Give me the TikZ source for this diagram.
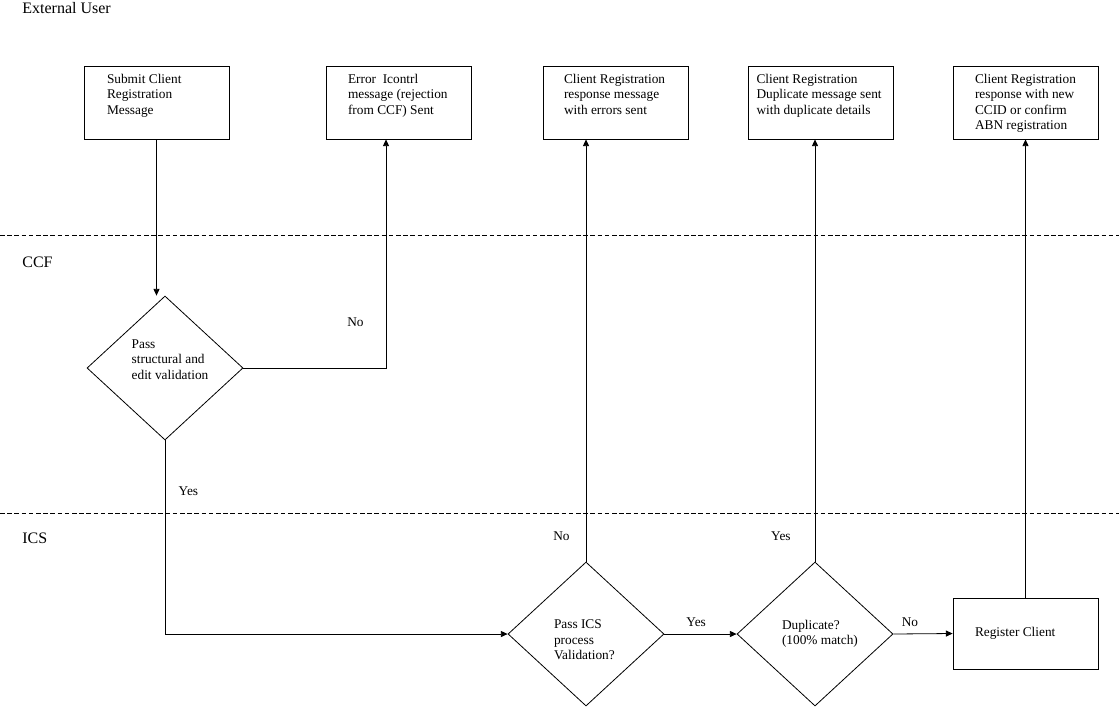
\documentclass[tikz,border=0pt]{standalone}
\usepackage{fontspec}
\setmainfont{Liberation Serif}
\usetikzlibrary{arrows.meta,shapes.geometric,calc}

\begin{document}
\begin{tikzpicture}[x=0.75pt,y=-0.75pt,>={Triangle[length=5pt,width=4.5pt]},semithick,font=\fontsize{10}{11.6}\selectfont]
  \tikzstyle{box}=[draw,rectangle,minimum width=108.75pt,minimum height=54.75pt,inner sep=0pt]
  \tikzstyle{decision}=[draw,diamond,minimum width=117pt,minimum height=108pt,inner sep=0pt]
  \tikzstyle{lane}=[anchor=west,inner sep=0pt,font=\fontsize{12}{14}\selectfont]
  \tikzstyle{lanesep}=[dash pattern=on 3.4pt off 2pt]
  \tikzstyle{flow}=[->]
  \tikzstyle{lbl}=[inner sep=0pt]

  \useasboundingbox (0,0) rectangle (1119,718);

  % swim lanes
  \node[lane] (user) at (22,8) {External User};
  \node[lane] (ccf) at (22,262) {CCF};
  \node[lane] (ics) at (22,538) {ICS};
  \draw[lanesep] (0,235) -- (1119,235);
  \draw[lanesep] (0,513) -- (1119,513);

  % external user messages
  \node[box] (submit) at (156.5,102.5) {\parbox[c][43pt][t]{74.25pt}{Submit Client\\Registration\\Message}};
  \node[box] (errsent) at (398.5,102.5) {\parbox[c][43pt][t]{75.75pt}{Error\ \ Icontrl\\message (rejection\\from CCF) Sent}};
  \node[box] (errresp) at (615.5,102.5) {\parbox[c][43pt][t]{77.25pt}{Client Registration\\response message\\with errors sent}};
  \node[box] (dupsent) at (821,102.5) {\parbox[c][43pt][t]{96.75pt}{Client Registration\\Duplicate message sent\\with duplicate details}};
  \node[box] (regresp) at (1025.5,102.5) {\parbox[c][43pt][t]{75.75pt}{Client Registration\\response with new\\CCID or confirm\\ABN registration}};

  % checks
  \node[decision] (structval) at (165,368) {\parbox[c][42.5pt][t]{50pt}{Pass\\\mbox{structural and}\\\mbox{edit validation}}};
  \node[decision] (icsval) at (586,634) {\parbox[c][38.5pt][b]{48pt}{Pass ICS\\process\\Validation?}};
  \node[decision] (dupchk) at (815,634) {\parbox{49.5pt}{Duplicate?\\\mbox{(100\% match)}}};
  \node[box,minimum height=53.25pt] (regclient) at (1025.5,633.5) {\parbox{75.75pt}{Register Client}};

  % flow
  \draw[flow] (submit.south) -- (submit.south |- structval.north);
  \draw[flow] (structval.east) -| node[lbl,left=16.5pt,pos=0.6] {No} ($(errsent.south)+(-12.5,0)$);
  \draw[flow] (structval.south) |- node[lbl,right=10pt,pos=0.13] {Yes} (icsval.west);
  \draw[flow] (icsval.north) -- node[lbl,left=12pt,pos=0.06] {No} (icsval.north |- errresp.south);
  \draw[flow] (icsval.east) -- node[above=2pt,pos=0.44] {Yes} (dupchk.west);
  \draw[flow] (dupchk.north) -- node[lbl,left=18pt,pos=0.06] {Yes} (dupchk.north |- dupsent.south);
  \draw[flow] (dupchk.east) -- node[above=2pt,pos=0.28] {No} (regclient.west);
  \draw[flow] (regclient.north) -- (regresp.south);
\end{tikzpicture}
\end{document}
